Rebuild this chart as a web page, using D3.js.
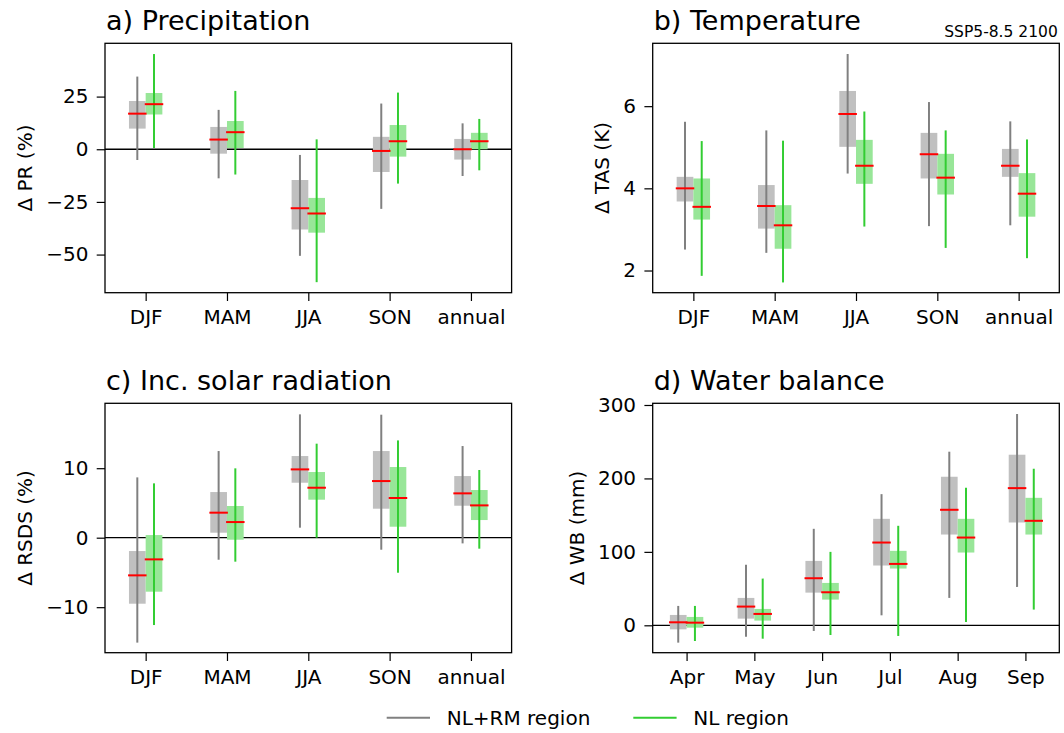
<!DOCTYPE html>
<html>
<head>
<meta charset="utf-8">
<script src="https://cdn.jsdelivr.net/npm/d3@7"></script>
<style>
  body { margin: 0; background: #fff; }
  svg { font-family: "DejaVu Sans", sans-serif; }
</style>
</head>
<body>
<svg width="1064" height="733"></svg>
<script>
const seasons = ['DJF', 'MAM', 'JJA', 'SON', 'annual']
const months = ['Apr', 'May', 'Jun', 'Jul', 'Aug', 'Sep']

// every row: [whisker low, box low, median, box high, whisker high]
const prNLRM = [[-5.1, 9.8, 16.9, 22.9, 34.5], [-13.8, -2.1, 4.6, 10.6, 18.7], [-50.6, -38.1, -28.0, -14.6, -2.7], [-28.3, -10.8, -0.8, 5.9, 21.7], [-12.7, -4.9, 0.0, 4.9, 12.3]]
const prNL = [[0.6, 16.5, 21.4, 26.7, 45.2], [-12.0, 0.6, 8.1, 13.4, 27.7], [-63.1, -39.6, -30.5, -23.1, 4.7], [-16.3, -3.5, 3.8, 11.5, 26.9], [-10.0, 0.0, 3.8, 7.8, 14.4]]

const tasNLRM = [[2.51, 3.68, 4.0, 4.28, 5.62], [2.43, 3.02, 3.57, 4.08, 5.41], [4.36, 5.01, 5.81, 6.37, 7.27], [3.08, 4.24, 4.83, 5.35, 6.10], [3.10, 4.28, 4.55, 4.96, 5.63]]
const tasNL = [[1.87, 3.24, 3.55, 4.24, 5.15], [1.71, 2.53, 3.10, 3.59, 5.16], [3.07, 4.11, 4.55, 5.18, 5.87], [2.55, 3.85, 4.26, 4.84, 5.41], [2.30, 3.31, 3.87, 4.37, 5.19]]

const rsdsNLRM = [[-15.1, -9.5, -5.42, -1.92, 8.68], [-3.17, 0.72, 3.6, 6.57, 12.47], [1.44, 7.91, 9.83, 11.75, 17.75], [-1.73, 4.17, 8.15, 12.47, 17.7], [-0.82, 4.6, 6.38, 8.87, 13.19]]
const rsdsNL = [[-12.57, -7.77, -3.12, 0.38, 7.82], [-3.45, -0.29, 2.25, 4.56, 9.98], [0.0, 5.47, 7.19, 9.45, 13.53], [-5.04, 1.58, 5.71, 10.17, 14.0], [-1.58, 2.54, 4.65, 6.86, 9.74]]

const wbNLRM = [[-23.6, -5.5, 4.1, 14.1, 26.4], [-15.5, 9.1, 25.5, 37.3, 82.3], [-7.7, 44.5, 64.1, 87.7, 131.4], [13.6, 81.4, 112.7, 145.0, 178.6], [37.3, 123.6, 157.3, 202.3, 236.4], [52.3, 140.0, 186.8, 232.3, 287.7]]
const wbNL = [[-21.4, -3.2, 3.6, 11.4, 26.4], [-18.2, 6.4, 15.5, 22.3, 63.6], [-13.2, 35.0, 45.0, 57.7, 100.0], [-14.5, 77.3, 83.6, 101.4, 135.5], [4.5, 99.1, 119.5, 145.0, 187.3], [21.4, 123.6, 142.3, 173.6, 213.2]]

// axis limits and ticks
const prLim = [-68.1, 50.3], prTicks = [-50, -25, 0, 25]
const tasLim = [1.46, 7.53], tasTicks = [2, 4, 6]
const rsdsLim = [-16.55, 19.34], rsdsTicks = [-10, 0, 10]
const wbLim = [-37.3, 302.3], wbTicks = [0, 100, 200, 300]

const seriesNames = ['NL+RM region', 'NL region']

const WIDTH = 1064
const PW = 406.6
const PH = 249.4
const BOX_W = 16.7
const MED_W = 18.5
const BOX_COLORS = ['#c0c0c0', '#98e698']
const LINE_COLORS = ['#808080', '#32cd32']

const svg = d3.select('svg')

const panels = [
  {title: 'a) Precipitation', ylabel: '\u0394 PR (%)', cats: seasons, data: [prNLRM, prNL], lim: prLim, ticks: prTicks, left: 105, top: 43.3},
  {title: 'b) Temperature', ylabel: '\u0394 TAS (K)', cats: seasons, data: [tasNLRM, tasNL], lim: tasLim, ticks: tasTicks, left: 652.7, top: 43.3, note: 'SSP5-8.5 2100'},
  {title: 'c) Inc. solar radiation', ylabel: '\u0394 RSDS (%)', cats: seasons, data: [rsdsNLRM, rsdsNL], lim: rsdsLim, ticks: rsdsTicks, left: 105, top: 403.3},
  {title: 'd) Water balance', ylabel: '\u0394 WB (mm)', cats: months, data: [wbNLRM, wbNL], lim: wbLim, ticks: wbTicks, left: 652.7, top: 403.3}
]

function drawPanel(p) {
  const x = d3.scaleLinear()
    .domain([-0.5, p.cats.length - 0.5])
    .range([p.left, p.left + PW])
  const y = d3.scaleLinear()
    .domain(p.lim)
    .range([p.top + PH, p.top])

  const g = svg.append('g').attr('class', 'panel')

  if (p.lim[0] < 0 && p.lim[1] > 0) {
    g.append('line')
      .attr('x1', p.left).attr('x2', p.left + PW)
      .attr('y1', y(0)).attr('y2', y(0))
      .attr('stroke', '#000').attr('stroke-width', 1.3)
  }

  // boxes, then whiskers, then medians
  p.data.forEach((rows, k) => {
    const off = k === 0 ? -BOX_W / 2 : BOX_W / 2
    g.selectAll('.box' + k)
      .data(rows)
      .enter().append('rect')
        .attr('class', 'box' + k)
        .attr('x', (d, i) => x(i) + off - BOX_W / 2)
        .attr('y', d => y(d[3]))
        .attr('width', BOX_W)
        .attr('height', d => y(d[1]) - y(d[3]))
        .attr('fill', BOX_COLORS[k])
  })
  p.data.forEach((rows, k) => {
    const off = k === 0 ? -BOX_W / 2 : BOX_W / 2
    g.selectAll('.whisk' + k)
      .data(rows)
      .enter().append('line')
        .attr('class', 'whisk' + k)
        .attr('x1', (d, i) => x(i) + off)
        .attr('x2', (d, i) => x(i) + off)
        .attr('y1', d => y(d[0]))
        .attr('y2', d => y(d[4]))
        .attr('stroke', LINE_COLORS[k])
        .attr('stroke-width', 2)
  })
  p.data.forEach((rows, k) => {
    const off = k === 0 ? -BOX_W / 2 : BOX_W / 2
    g.selectAll('.med' + k)
      .data(rows)
      .enter().append('line')
        .attr('class', 'med' + k)
        .attr('x1', (d, i) => x(i) + off - MED_W / 2)
        .attr('x2', (d, i) => x(i) + off + MED_W / 2)
        .attr('y1', d => y(d[2]))
        .attr('y2', d => y(d[2]))
        .attr('stroke', '#ff0000')
        .attr('stroke-width', 2)
  })

  // axes
  const yAxis = g.append('g')
    .attr('transform', `translate(${p.left},0)`)
    .call(d3.axisLeft(y).tickValues(p.ticks).tickSize(8.3).tickPadding(8.3).tickFormat(d3.format('d')))
  const xAxis = g.append('g')
    .attr('transform', `translate(0,${p.top + PH})`)
    .call(d3.axisBottom(x).tickValues(d3.range(p.cats.length)).tickSize(8.3).tickPadding(9).tickFormat(i => p.cats[i]))
  for (const ax of [xAxis, yAxis]) {
    ax.select('.domain').remove()
    ax.selectAll('line').attr('stroke', '#000').attr('stroke-width', 1.2)
    ax.selectAll('text').attr('font-size', 20).attr('fill', '#000').attr('font-family', '"DejaVu Sans", sans-serif')
  }

  g.append('rect')
    .attr('x', p.left).attr('y', p.top)
    .attr('width', PW).attr('height', PH)
    .attr('fill', 'none').attr('stroke', '#000').attr('stroke-width', 1.3)

  // y label placed left of the widest tick label
  let minX = p.left
  yAxis.selectAll('text').each(function() {
    const b = this.getBBox()
    minX = Math.min(minX, p.left + b.x)
  })
  const lx = minX - 14
  g.append('text')
    .attr('transform', `translate(${lx},${p.top + PH / 2}) rotate(-90)`)
    .attr('text-anchor', 'middle')
    .attr('font-size', 20)
    .text(p.ylabel)

  g.append('text')
    .attr('x', p.left + 1)
    .attr('y', p.top - 13)
    .attr('font-size', 27)
    .text(p.title)

  if (p.note) {
    g.append('text')
      .attr('x', p.left + PW - 1.5)
      .attr('y', p.top - 6.5)
      .attr('text-anchor', 'end')
      .attr('font-size', 15.5)
      .text(p.note)
  }
}

panels.forEach(drawPanel)

// legend
const legX = [386.7, 633.3]
const legend = svg.append('g').attr('class', 'legend')
seriesNames.forEach((name, k) => {
  legend.append('line')
    .attr('x1', legX[k]).attr('x2', legX[k] + 43.3)
    .attr('y1', 717.7).attr('y2', 717.7)
    .attr('stroke', LINE_COLORS[k]).attr('stroke-width', 2)
  legend.append('text')
    .attr('x', legX[k] + 60)
    .attr('y', 717.7)
    .attr('dy', '0.35em')
    .attr('font-size', 20)
    .text(name)
})
</script>
</body>
</html>
